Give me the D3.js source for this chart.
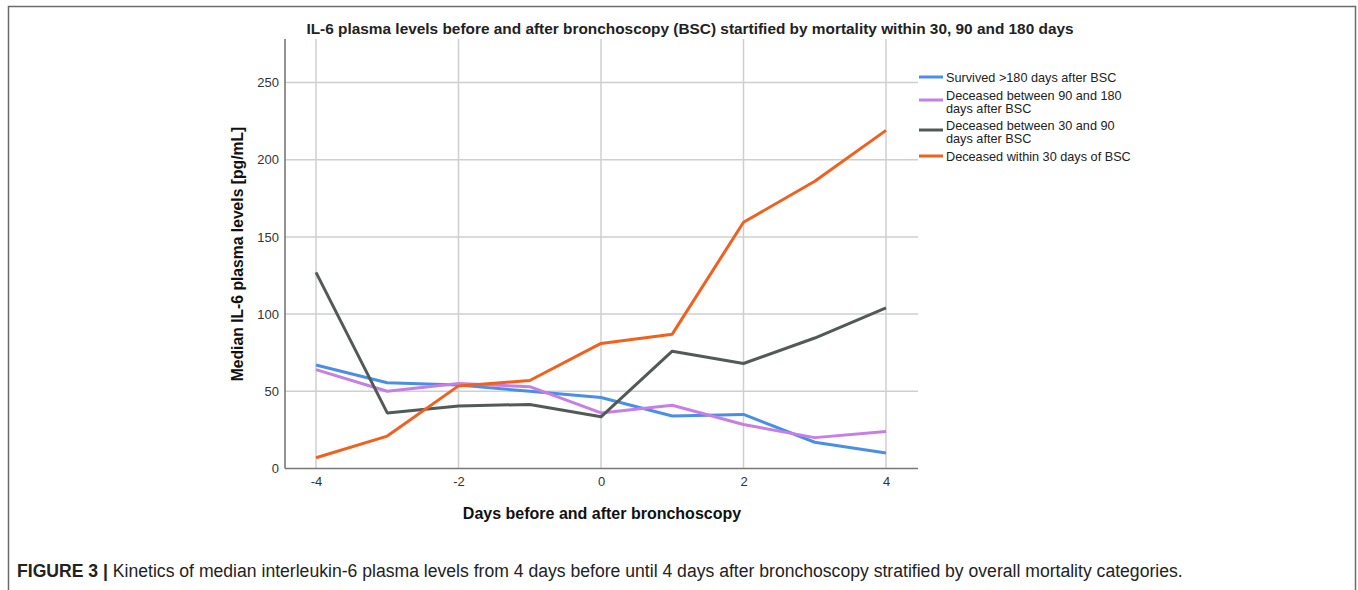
<!DOCTYPE html>
<html>
<head>
<meta charset="utf-8">
<script src="https://cdn.jsdelivr.net/npm/d3@7"></script>
<style>
  html, body { margin: 0; padding: 0; background: #fff; }
  svg { display: block; }
  text { font-family: "Liberation Sans", Arial, sans-serif; }
</style>
</head>
<body>
<svg id="chart" width="1358" height="590"></svg>
<script>
// Days relative to bronchoscopy
const days = [-4, -3, -2, -1, 0, 1, 2, 3, 4];

// Median IL-6 plasma levels [pg/mL] per mortality group
const survived180 = [67, 55.5, 54, 50, 46, 34, 35, 17, 10];
const deceased90to180 = [64, 50, 55, 53, 36, 41, 28.5, 20, 24];
const deceased30to90 = [127, 36, 40.5, 41.5, 33.5, 76, 68, 84.5, 104];
const deceased30 = [7, 21, 53.5, 57, 81, 87, 159.5, 186, 219];

const seriesNames = [
  ["Survived >180 days after BSC"],
  ["Deceased between 90 and 180", "days after BSC"],
  ["Deceased between 30 and 90", "days after BSC"],
  ["Deceased within 30 days of BSC"]
];
const seriesColors = ["#4a8fe6", "#c77ee6", "#525a57", "#f2601f"];
const seriesValues = [survived180, deceased90to180, deceased30to90, deceased30];

const xTicks = [-4, -2, 0, 2, 4];
const yTicks = [0, 50, 100, 150, 200, 250];

const svg = d3.select("#chart");

// figure frame
svg.append("path")
  .attr("d", "M8.5,590 V6.5 H1355.5 V590")
  .attr("fill", "none").attr("stroke", "#6b6b6b").attr("stroke-width", 1.5);

const plot = { left: 285, right: 918, top: 39, bottom: 468.5 };

const x = d3.scaleLinear().domain([-4, 4]).range([316, 886]);
const y = d3.scaleLinear().domain([0, 250]).range([plot.bottom, 82.5]);

// horizontal gridlines
svg.append("g")
  .selectAll("line").data(yTicks.filter(d => d > 0)).join("line")
  .attr("x1", plot.left).attr("x2", plot.right)
  .attr("y1", d => y(d)).attr("y2", d => y(d))
  .attr("stroke", "#cfcfcf").attr("stroke-width", 1.5);

// vertical gridlines
svg.append("g")
  .selectAll("line").data(xTicks).join("line")
  .attr("x1", d => x(d)).attr("x2", d => x(d))
  .attr("y1", plot.top).attr("y2", plot.bottom)
  .attr("stroke", "#cfcfcf").attr("stroke-width", 1.5);

// axes
const yAxis = d3.axisLeft(y).tickValues(yTicks).tickSize(0).tickPadding(6);
const gy = svg.append("g").attr("transform", `translate(${plot.left},0)`).call(yAxis);
gy.select(".domain").remove();
gy.selectAll("text").attr("font-size", 13).attr("fill", "#333")
  .attr("font-family", "'Liberation Sans', Arial, sans-serif");

const xAxis = d3.axisBottom(x).tickValues(xTicks).tickSize(0).tickPadding(8)
  .tickFormat(d3.format("d"));
const gx = svg.append("g").attr("transform", `translate(0,${plot.bottom})`).call(xAxis);
gx.select(".domain").remove();
gx.selectAll("text").attr("font-size", 13).attr("fill", "#333")
  .attr("font-family", "'Liberation Sans', Arial, sans-serif")
  .text(d => d < 0 ? "-" + Math.abs(d) : d);

svg.append("line")
  .attr("x1", plot.left).attr("x2", plot.left)
  .attr("y1", plot.top).attr("y2", plot.bottom)
  .attr("stroke", "#777").attr("stroke-width", 1.6);
svg.append("line")
  .attr("x1", plot.left).attr("x2", plot.right)
  .attr("y1", plot.bottom).attr("y2", plot.bottom)
  .attr("stroke", "#777").attr("stroke-width", 1.6);

// series lines
const line = d3.line().x((d, i) => x(days[i])).y(d => y(d));
svg.append("g")
  .selectAll("path").data(seriesValues).join("path")
  .attr("d", line)
  .attr("fill", "none")
  .attr("stroke", (d, i) => seriesColors[i])
  .attr("stroke-width", 3)
  .attr("stroke-linejoin", "round");

// title
svg.append("text")
  .attr("x", 690).attr("y", 34)
  .attr("text-anchor", "middle")
  .attr("font-size", 15.4).attr("font-weight", "bold").attr("fill", "#222")
  .text("IL-6 plasma levels before and after bronchoscopy (BSC) startified by mortality within 30, 90 and 180 days");

// axis titles
svg.append("text")
  .attr("transform", "translate(243,254) rotate(-90)")
  .attr("text-anchor", "middle")
  .attr("font-size", 15.7).attr("font-weight", "bold").attr("fill", "#111")
  .text("Median IL-6 plasma levels [pg/mL]");

svg.append("text")
  .attr("x", 602).attr("y", 519)
  .attr("text-anchor", "middle")
  .attr("font-size", 16).attr("font-weight", "bold").attr("fill", "#111")
  .text("Days before and after bronchoscopy");

// legend
const legendRows = [77, 100, 130, 156];
const legend = svg.append("g");
seriesNames.forEach((lines, i) => {
  const ly = legendRows[i];
  legend.append("line")
    .attr("x1", 919).attr("x2", 943)
    .attr("y1", ly).attr("y2", ly)
    .attr("stroke", seriesColors[i]).attr("stroke-width", 3);
  lines.forEach((t, k) => {
    legend.append("text")
      .attr("x", 946).attr("y", (lines.length === 1 ? ly + 4.5 : ly - 0.5 + k * 13))
      .attr("font-size", 12.7).attr("fill", "#222")
      .text(t);
  });
});

// caption
const cap = svg.append("text").attr("x", 17).attr("y", 577).attr("font-size", 17.6).attr("fill", "#222");
cap.append("tspan").attr("font-weight", "bold").text("FIGURE 3 | ");
cap.append("tspan").text("Kinetics of median interleukin-6 plasma levels from 4 days before until 4 days after bronchoscopy stratified by overall mortality categories.");
</script>
</body>
</html>
